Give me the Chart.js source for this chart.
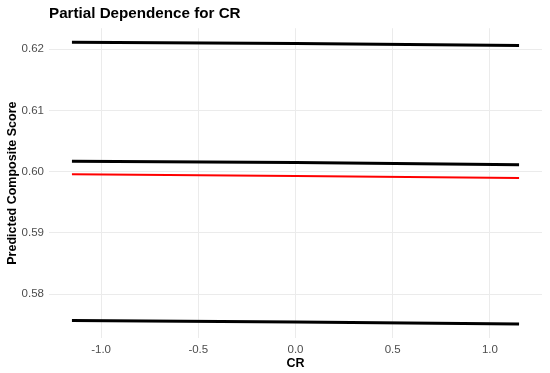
<!DOCTYPE html>
<html>
<head>
<meta charset="utf-8">
<script src="https://cdn.jsdelivr.net/npm/chart.js@4"></script>
<style>
  body { margin: 0; background: #fff; }
</style>
</head>
<body>
<canvas id="pd" width="550" height="373"></canvas>
<script>
// CR values where the partial dependence was read
const crValues = [-1.15, 0, 1.15];
// three black curves and the red one in between
const upperLine = [0.6211, 0.6209, 0.6206];
const midLine = [0.6017, 0.60147, 0.60114];
const redLine = [0.59958, 0.5993, 0.59897];
const lowerLine = [0.57569, 0.57548, 0.57515];
const xTicks = [-1.0, -0.5, 0.0, 0.5, 1.0];
const yTicks = [0.58, 0.59, 0.60, 0.61, 0.62];

const fontFamily = 'Helvetica, Arial, "Liberation Sans", sans-serif';

function pts(ys) {
    let out = [];
    for (let i = 0; i < crValues.length; i++) {
        out.push({x: crValues[i], y: ys[i]});
    }
    return out;
}

function lineSet(ys, color, width) {
    return {
        data: pts(ys),
        borderColor: color,
        borderWidth: width,
        pointRadius: 0,
        fill: false,
        tension: 0
    };
}

let chart = new Chart(document.getElementById('pd'), {
    type: 'line',
    data: {
        datasets: [
            lineSet(upperLine, '#000000', 3),
            lineSet(midLine, '#000000', 3),
            lineSet(lowerLine, '#000000', 3),
            lineSet(redLine, '#ff0000', 2)
        ]
    },
    options: {
        responsive: false,
        animation: false,
        layout: { padding: { left: 0, right: 8, top: 0, bottom: 0 } },
        plugins: {
            legend: { display: false },
            tooltip: { enabled: false },
            title: {
                display: true,
                text: 'Partial Dependence for CR',
                align: 'start',
                fullSize: false,
                color: '#000',
                font: { family: fontFamily, size: 15.2, weight: 'bold' },
                padding: { top: 5, bottom: 5 }
            }
        },
        scales: {
            x: {
                type: 'linear',
                min: -1.268,
                max: 1.268,
                afterBuildTicks: function(scale) {
                    scale.ticks = xTicks.map(v => ({value: v}));
                },
                afterFit: function(scale) { scale.height = 35; },
                grid: { color: '#ebebeb', lineWidth: 1, drawTicks: false },
                border: { display: false },
                ticks: {
                    color: '#4d4d4d',
                    padding: 5,
                    font: { family: fontFamily, size: 11.5 },
                    callback: v => v.toFixed(1)
                },
                title: {
                    display: true,
                    text: 'CR',
                    color: '#000',
                    padding: { top: 0, bottom: 2 },
                    font: { family: fontFamily, size: 12.5, weight: 'bold' }
                }
            },
            y: {
                type: 'linear',
                min: 0.57285,
                max: 0.6234,
                afterBuildTicks: function(scale) {
                    scale.ticks = yTicks.map(v => ({value: v}));
                },
                afterFit: function(scale) { scale.width = 49; },
                grid: { color: '#ebebeb', lineWidth: 1, drawTicks: false },
                border: { display: false },
                ticks: {
                    color: '#4d4d4d',
                    padding: 5,
                    font: { family: fontFamily, size: 11.5 },
                    callback: v => v.toFixed(2)
                },
                title: {
                    display: true,
                    text: 'Predicted Composite Score',
                    color: '#000',
                    padding: { top: 5, bottom: 0 },
                    font: { family: fontFamily, size: 12.5, weight: 'bold' }
                }
            }
        }
    }
});
</script>
</body>
</html>
